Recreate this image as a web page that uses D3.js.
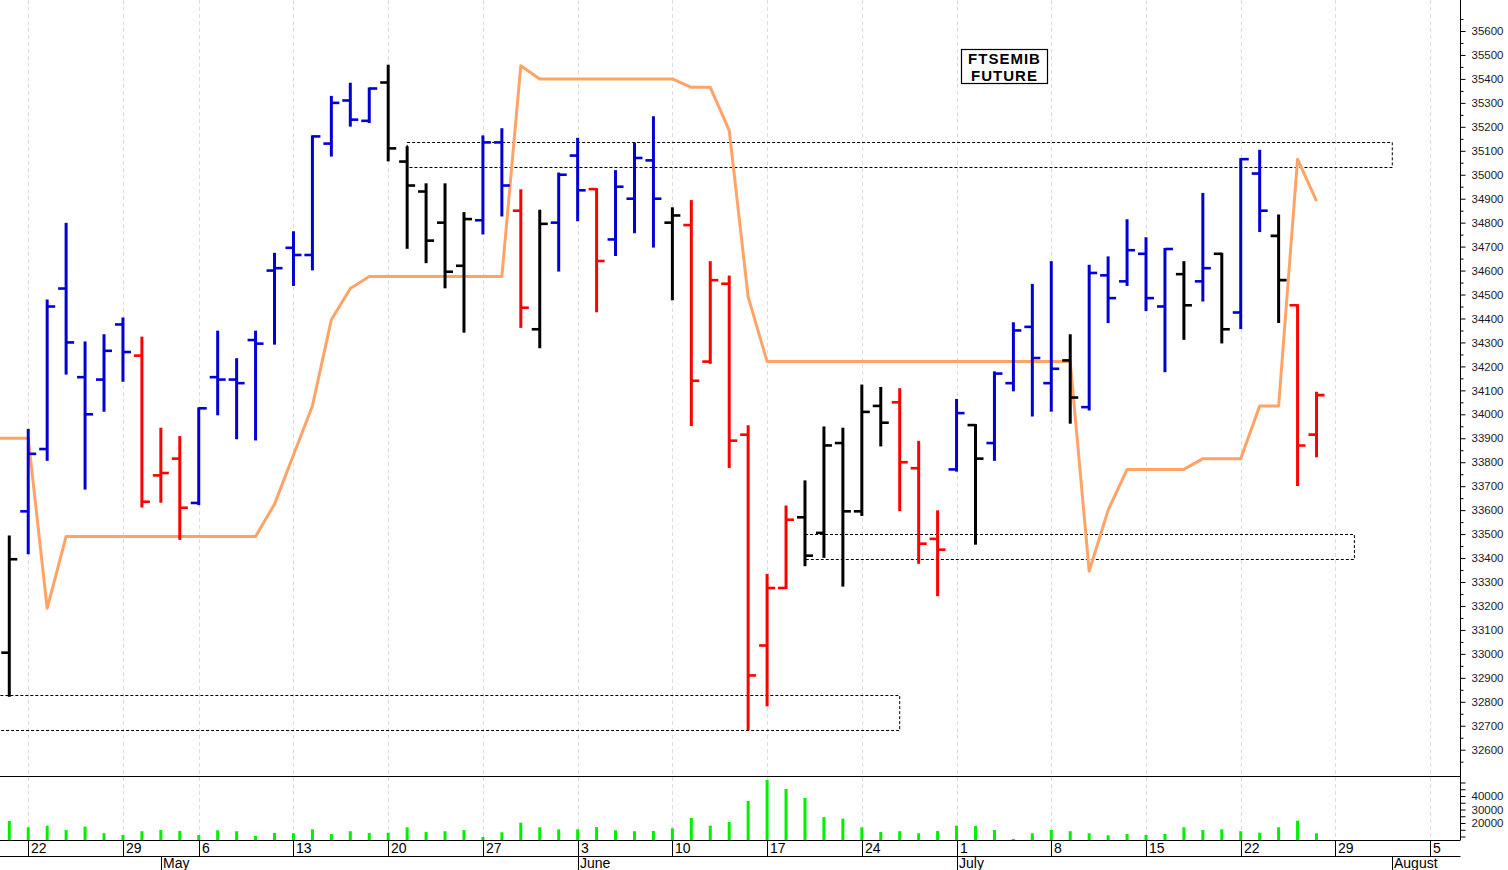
<!DOCTYPE html>
<html><head><meta charset="utf-8">
<script src="https://cdn.jsdelivr.net/npm/d3@7"></script>
<style>html,body{margin:0;padding:0;background:#fff;overflow:hidden;} svg{display:block;}</style>
</head><body><svg id="c" width="1508" height="870"></svg>
<script>
// ---- data ----
const dates = ["2024-04-19","2024-04-22","2024-04-23","2024-04-24","2024-04-25","2024-04-26","2024-04-29","2024-04-30",
"2024-05-02","2024-05-03","2024-05-06","2024-05-07","2024-05-08","2024-05-09","2024-05-10","2024-05-13","2024-05-14","2024-05-15","2024-05-16","2024-05-17",
"2024-05-20","2024-05-21","2024-05-22","2024-05-23","2024-05-24","2024-05-27","2024-05-28","2024-05-29","2024-05-30","2024-05-31",
"2024-06-03","2024-06-04","2024-06-05","2024-06-06","2024-06-07","2024-06-10","2024-06-11","2024-06-12","2024-06-13","2024-06-14",
"2024-06-17","2024-06-18","2024-06-19","2024-06-20","2024-06-21","2024-06-24","2024-06-25","2024-06-26","2024-06-27","2024-06-28",
"2024-07-01","2024-07-02","2024-07-03","2024-07-04","2024-07-05","2024-07-08","2024-07-09","2024-07-10","2024-07-11","2024-07-12",
"2024-07-15","2024-07-16","2024-07-17","2024-07-18","2024-07-19","2024-07-22","2024-07-23","2024-07-24","2024-07-25","2024-07-26"];
const futureDates = ["2024-07-29","2024-07-30","2024-07-31","2024-08-01","2024-08-02","2024-08-05","2024-08-06","2024-08-07"];

const opens  = [33005,33595,33855,34525,34155,34145,34375,34245,33745,33815,33630,34155,34145,34310,34600,34695,34665,35130,35310,35225,
                35385,35055,34930,34800,34620,34810,35135,34850,34355,34800,35080,34940,34730,34900,35060,34800,34790,34220,34545,33915,
                33035,33275,33570,33505,33880,33595,34035,34050,33775,33480,33770,33955,33880,34130,34365,34130,34225,34030,34580,34555,
                34670,34450,34585,34555,34670,34425,35005,34745,34455,33915];
const highs  = [33490,33935,34475,34795,34300,34330,34400,34320,33940,33905,34025,34345,34230,34345,34670,34760,35160,35325,35380,35360,
                35455,35115,34960,34960,34840,35160,35190,34935,34850,35005,35150,34940,35015,35130,35240,34860,34890,34635,34575,33950,
                33330,33615,33720,33945,33940,34120,34110,34105,33885,33595,34060,33955,34175,34380,34540,34635,34330,34620,34655,34810,
                34735,34690,34635,34920,34670,35065,35100,34830,34455,34090];
const lows   = [32825,33420,33810,34170,33690,34015,34140,33615,33635,33480,33625,34000,33900,33895,34295,34540,34605,35080,35205,35220,
                35060,34695,34635,34530,34345,34755,34830,34365,34280,34600,34810,34430,34665,34760,34700,34480,33955,34215,33780,32685,
                32785,33275,33370,33405,33285,33580,33870,33600,33380,33245,33765,33460,33810,34100,33995,34015,33965,34020,34385,34540,
                34435,34180,34315,34475,34300,34360,34765,34385,33705,33825];
const closes = [33395,33835,34450,34300,34000,34265,34260,33635,33755,33610,34025,34145,34130,34295,34610,34665,35160,35300,35230,35360,
                35110,34955,34725,34595,34815,35135,34955,34445,34795,35000,34935,34640,34950,35070,34900,34830,34140,34560,33890,32910,
                33275,33560,33410,33870,33595,34010,33965,33800,33460,33435,34005,33815,34170,34350,34235,34190,34070,34590,34485,34685,
                34485,34690,34455,34610,34355,35065,34850,34560,33870,34080];
// bar colour class: k = black, b = blue, r = red
const barClass = "k bbbbbb rrr bbbbbbbbbb kkkkk bb r k bb r bbb k rrrrrr kkkkk rrr b k bbbb k bbbbb k b k bb k rr".replace(/ /g,"").split("");
const volumes = [21500,16800,18000,14800,17300,12400,11100,13900,14800,14100,11100,14600,13900,10400,12600,12400,15300,11900,13900,12600,
                 12800,16800,13300,13900,14800,9600,13100,20200,16800,15300,15300,17000,14600,13900,14100,16100,23700,18000,20700,36300,
                 51900,45200,38500,24400,23200,16800,13300,13900,12400,14100,18000,17800,14800,8200,12400,14800,13900,12400,10900,11900,
                 11100,11900,16800,14800,15300,13900,12800,16800,21700,12400];
// stop line, first value belongs to the session before the first visible bar (2024-04-18)
const stopLine = [33900,33900,33900,33190,33490,33490,33490,33490,33490,33490,33490,33490,33490,33490,33490,33625,33830,34035,34395,34525,34575,
                  34575,34575,34575,34575,34575,34575,34575,35455,35400,35400,35400,35400,35400,35400,35400,35400,35365,35365,35185,34490,
                  34220,34220,34220,34220,34220,34220,34220,34220,34220,34220,34220,34220,34220,34220,34220,34220,34220,33345,33600,33770,
                  33770,33770,33770,33815,33815,33815,34035,34035,35065,34890];
// dotted zones: [start index, end index, top price, bottom price]
const zones = [[-1,47,32830,32683],[21,73,35138,35032],[42,71,33499,33395]];
const priceTicks = d3.range(32550, 35651, 50);
const volumeTicks = d3.range(10000, 55001, 5000);
const volumeLabels = [20000,30000,40000];
const titleLines = ["FTSEMIB","FUTURE"];
const monthNames = ["January","February","March","April","May","June","July","August","September","October","November","December"];

// ---- layout ----
const plotR = 1460.5, priceBottom = 776, volBottom = 840, row1 = 856, H = 870;
const colors = {k:"#000000", b:"#0000d4", r:"#ff0000"};
const svg = d3.select("#c");
const allDates = dates.concat(futureDates).map(d => new Date(d + "T12:00:00"));

const x = d3.scaleLinear().domain([-0.49, 76.6]).range([0, plotR]);
const y = d3.scaleLinear().domain([32600, 35600]).range([749.7, 31]);
const yv = d3.scaleLinear().domain([20000, 40000]).range([823, 796]);

const defs = svg.append("defs");
defs.append("clipPath").attr("id","cp").append("rect").attr("x",0).attr("y",0).attr("width",plotR).attr("height",priceBottom);
defs.append("clipPath").attr("id","cv").append("rect").attr("x",0).attr("y",priceBottom).attr("width",plotR).attr("height",volBottom-priceBottom);

// week / month ticks
const weekIdx = [], monthIdx = [];
allDates.forEach((d,i) => {
  if (i === 0) return;
  const p = allDates[i-1];
  if (d.getDay() < p.getDay() || (d - p) > 4*864e5) weekIdx.push(i);
  if (d.getMonth() !== p.getMonth()) monthIdx.push(i);
});

// grid
svg.append("g").selectAll("line").data(weekIdx).join("line")
  .attr("x1", i => Math.round(x(i))+0.5).attr("x2", i => Math.round(x(i))+0.5)
  .attr("y1", 0).attr("y2", volBottom)
  .attr("stroke", "#dcdce4").attr("stroke-width", 1).attr("stroke-dasharray", "4,3");

// zones
svg.append("g").attr("clip-path","url(#cp)").selectAll("rect").data(zones).join("rect")
  .attr("x", d => x(d[0])).attr("width", d => x(d[1]) - x(d[0]))
  .attr("y", d => Math.round(y(d[2]))+0.5).attr("height", d => Math.round(y(d[3]) - y(d[2])))
  .attr("fill","none").attr("stroke","#000").attr("stroke-width",1).attr("stroke-dasharray","3,2");

// stop line
svg.append("path").attr("clip-path","url(#cp)")
  .datum(stopLine)
  .attr("d", d3.line().x((d,i) => x(i - 1)).y(d => y(d)))
  .attr("fill","none").attr("stroke","#ffa466").attr("stroke-width",3).attr("stroke-linejoin","round");

// OHLC bars
const bars = svg.append("g").attr("clip-path","url(#cp)");
const idx = d3.range(dates.length);
const tickLen = 8;
bars.selectAll("line.hl").data(idx).join("line").attr("class","hl")
  .attr("x1", i => x(i)).attr("x2", i => x(i))
  .attr("y1", i => y(highs[i]) - 1).attr("y2", i => y(lows[i]) + 1)
  .attr("stroke", i => colors[barClass[i]]).attr("stroke-width", 3);
bars.selectAll("line.op").data(idx).join("line").attr("class","op")
  .attr("x1", i => x(i) - tickLen).attr("x2", i => x(i))
  .attr("y1", i => y(opens[i])).attr("y2", i => y(opens[i]))
  .attr("stroke", i => colors[barClass[i]]).attr("stroke-width", 2.6);
bars.selectAll("line.cl").data(idx).join("line").attr("class","cl")
  .attr("x1", i => x(i)).attr("x2", i => x(i) + tickLen)
  .attr("y1", i => y(closes[i])).attr("y2", i => y(closes[i]))
  .attr("stroke", i => colors[barClass[i]]).attr("stroke-width", 2.6);

// volume
svg.append("g").attr("clip-path","url(#cv)").selectAll("rect").data(idx).join("rect")
  .attr("x", i => x(i) - 1.5).attr("width", 3)
  .attr("y", i => Math.min(volBottom, yv(volumes[i])))
  .attr("height", i => Math.max(0, volBottom - yv(volumes[i])))
  .attr("fill", "#00f000");

// frame lines
const frame = svg.append("g").attr("stroke","#000").attr("stroke-width",1);
frame.append("line").attr("x1",0).attr("x2",plotR).attr("y1",priceBottom+0.5).attr("y2",priceBottom+0.5);
frame.append("line").attr("x1",0).attr("x2",plotR).attr("y1",volBottom+0.5).attr("y2",volBottom+0.5);
frame.append("line").attr("x1",0).attr("x2",plotR).attr("y1",row1+0.5).attr("y2",row1+0.5);
frame.append("line").attr("x1",plotR).attr("x2",plotR).attr("y1",0).attr("y2",volBottom);

// price axis
const pa = svg.append("g").attr("transform", `translate(${plotR},0)`)
  .call(d3.axisRight(y).tickValues(priceTicks).tickSize(5).tickPadding(6)
        .tickFormat(d => d % 100 === 0 ? d : ""));
pa.select(".domain").remove();
pa.selectAll(".tick line").attr("x2", d => d % 100 === 0 ? 5 : 3).attr("stroke","#000");
pa.selectAll("text").attr("font-family","'Liberation Sans', Arial, sans-serif").attr("font-size","11.5px").attr("fill","#1a1a1a");

// volume axis
const va = svg.append("g").attr("transform", `translate(${plotR},0)`)
  .call(d3.axisRight(yv).tickValues(volumeTicks).tickSize(5).tickPadding(6)
        .tickFormat(d => volumeLabels.includes(d) ? d : ""));
va.select(".domain").remove();
va.selectAll(".tick").filter(d => yv(d) < priceBottom || yv(d) > volBottom).remove();
va.selectAll(".tick line").attr("stroke","#000");
va.selectAll("text").attr("font-family","'Liberation Sans', Arial, sans-serif").attr("font-size","11.5px").attr("fill","#1a1a1a");

// date axis
const xa = svg.append("g").attr("font-family","'Liberation Sans Narrow','Liberation Sans',Arial,sans-serif");
xa.selectAll("line.wk").data(weekIdx).join("line").attr("class","wk")
  .attr("x1", i => Math.round(x(i))+0.5).attr("x2", i => Math.round(x(i))+0.5)
  .attr("y1", volBottom).attr("y2", row1).attr("stroke","#000");
xa.selectAll("text.wk").data(weekIdx).join("text").attr("class","wk")
  .attr("x", i => Math.round(x(i)) + 3).attr("y", 853)
  .attr("font-size","14px").attr("fill","#000")
  .text(i => allDates[i].getDate());
xa.selectAll("line.mo").data(monthIdx).join("line").attr("class","mo")
  .attr("x1", i => Math.round(x(i))+0.5).attr("x2", i => Math.round(x(i))+0.5)
  .attr("y1", row1).attr("y2", H).attr("stroke","#000");
xa.selectAll("text.mo").data(monthIdx).join("text").attr("class","mo")
  .attr("x", i => Math.round(x(i)) + 2).attr("y", 868)
  .attr("font-size","14px").attr("fill","#000")
  .text(i => monthNames[allDates[i].getMonth()]);

// title box
const tb = svg.append("g");
tb.append("rect").attr("x",961.5).attr("y",49.5).attr("width",86).attr("height",34)
  .attr("fill","#fff").attr("stroke","#000").attr("stroke-width",1.2);
tb.selectAll("text").data(titleLines).join("text")
  .attr("x", 1004.5).attr("y", (d,i) => 64 + i*17)
  .attr("text-anchor","middle")
  .attr("font-family","'Liberation Sans', Arial, sans-serif").attr("font-weight","bold")
  .attr("font-size","15px").attr("letter-spacing","1px").attr("fill","#000")
  .text(d => d);
</script>
</body></html>
